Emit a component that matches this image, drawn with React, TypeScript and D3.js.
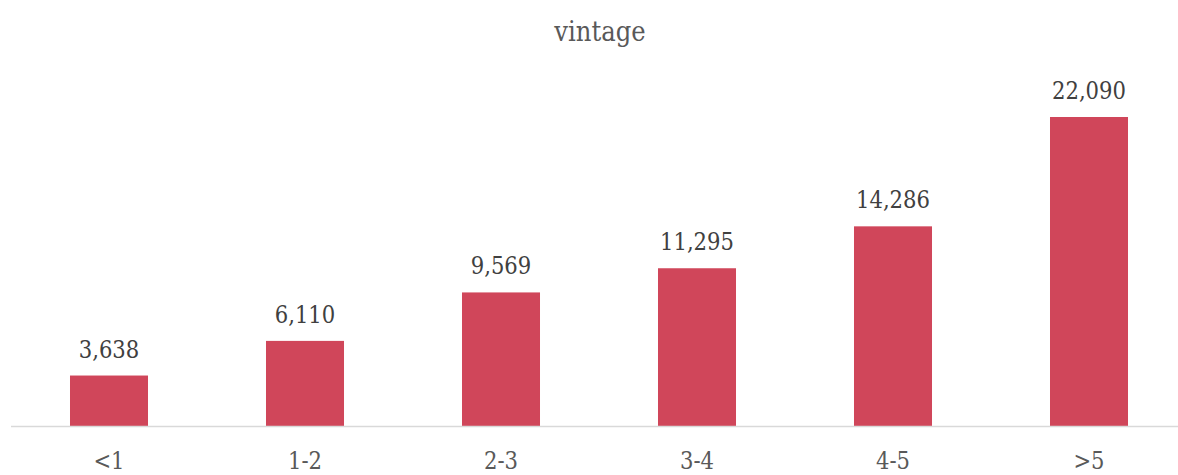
import React from "react";
import * as d3 from "d3";

const categories = ["<1", "1-2", "2-3", "3-4", "4-5", ">5"];
const values = [3638, 6110, 9569, 11295, 14286, 22090];
const title = "vintage";

const W = 1178;
const H = 475;
const FONT = "'DejaVu Serif Condensed', 'DejaVu Serif', 'Liberation Serif', serif";

export default function App() {
  const x = d3
    .scaleBand<string>()
    .domain(categories)
    .range([11, 11 + 196 * 6])
    .paddingInner(0.602)
    .paddingOuter(0.301);
  const y = d3.scaleLinear().domain([0, 22090]).range([426.5, 117]);
  const fmt = d3.format(",");
  return (
    <svg
      width={W}
      height={H}
      style={{ position: "absolute", left: 0, top: 0, background: "#fff" }}
      fontFamily={FONT}
      fontStretch="condensed"
    >
      <text x={600} y={41} textAnchor="middle" fontSize={27} fill="#595959">
        {title}
      </text>
      {categories.map((c, i) => (
        <g key={c}>
          <rect
            x={x(c)}
            y={y(values[i])}
            width={x.bandwidth()}
            height={y(0) - y(values[i])}
            fill="#D0465A"
          />
          <text
            x={(x(c) as number) + x.bandwidth() / 2}
            y={y(values[i]) - 18}
            textAnchor="middle"
            fontSize={23.5}
            fill="#404040"
          >
            {fmt(values[i])}
          </text>
          <text
            x={(x(c) as number) + x.bandwidth() / 2}
            y={469}
            textAnchor="middle"
            fontSize={23.5}
            fill="#595959"
          >
            {c}
          </text>
        </g>
      ))}
      <line x1={11} x2={W} y1={y(0)} y2={y(0)} stroke="#d9d9d9" strokeWidth={1.5} />
    </svg>
  );
}
